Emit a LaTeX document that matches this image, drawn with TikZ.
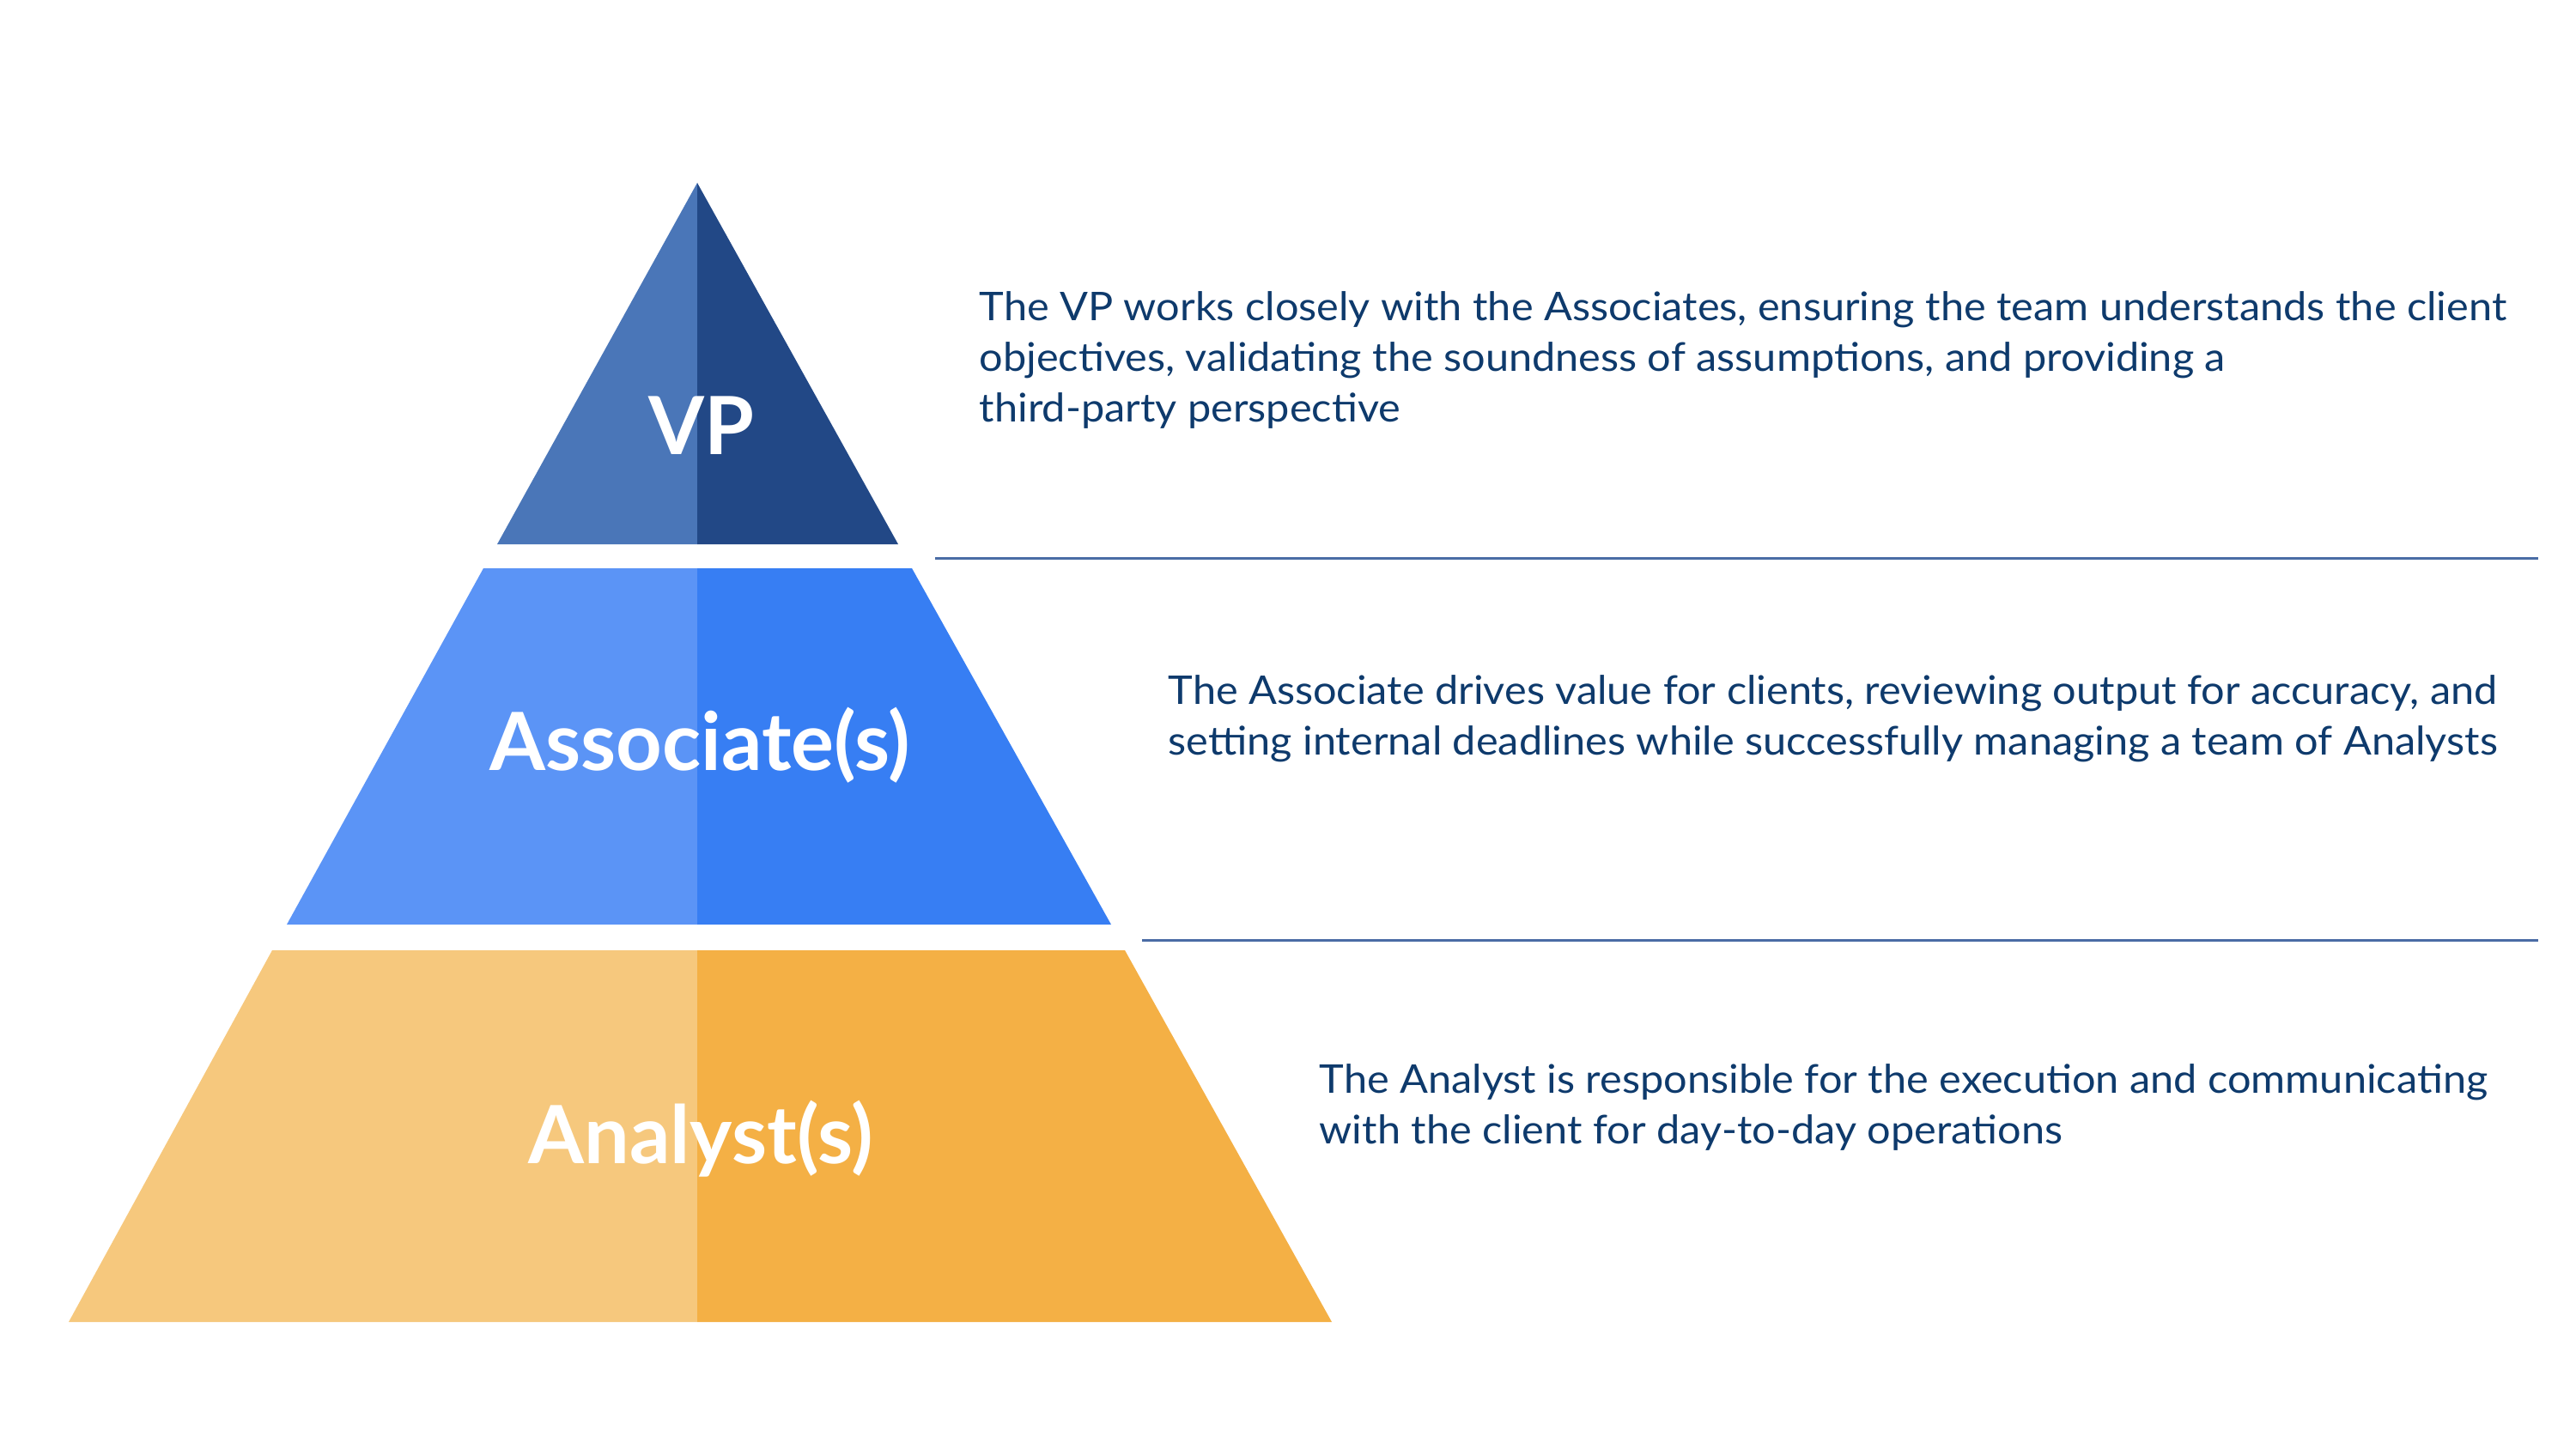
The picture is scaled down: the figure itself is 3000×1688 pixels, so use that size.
\documentclass[tikz,border=0pt]{standalone}
\usepackage{fontspec}
\setmainfont{Lato}
\newfontfamily\descfont{Lato}[FakeStretch=1.056]
\definecolor{vpL}{HTML}{4A76B8}
\definecolor{vpR}{HTML}{224886}
\definecolor{asL}{HTML}{5B94F6}
\definecolor{asR}{HTML}{377EF3}
\definecolor{anL}{HTML}{F6C87D}
\definecolor{anR}{HTML}{F4B045}
\definecolor{txt}{HTML}{0E3A6C}
\definecolor{sep}{HTML}{4A6CA5}
\tikzset{
  desc/.style={anchor=base west, inner sep=0pt, text=txt, font=\descfont\fontsize{13.1}{16}\selectfont},
  lvl/.style={anchor=base, inner sep=0pt, text=white, font=\fontsize{26.6}{30}\selectfont\bfseries},
  sepline/.style={draw=sep, line width=0.03cm}
}
\begin{document}
\begin{tikzpicture}[x=0.01cm,y=-0.01cm]
\useasboundingbox (0,0) rectangle (3000,1688);
% VP
\fill[vpL] (812,213) -- (812,634) -- (579,634) -- cycle;
\fill[vpR] (812,213) -- (812,634) -- (1046,634) -- cycle;
% Associates
\fill[asL] (563,662) -- (812,662) -- (812,1077) -- (334,1077) -- cycle;
\fill[asR] (812,662) -- (1062,662) -- (1294,1077) -- (812,1077) -- cycle;
% Analysts
\fill[anL] (317,1107) -- (812,1107) -- (812,1540) -- (80,1540) -- cycle;
\fill[anR] (812,1107) -- (1310,1107) -- (1551,1540) -- (812,1540) -- cycle;
% labels
\node[lvl] (vp) at (817,529) {VP};
\node[lvl] (as) at (815,897) {Associate(s)};
\node[lvl] (an) at (816,1355) {Analyst(s)};
% separators
\coordinate (s1a) at (1089,650);
\coordinate (s1b) at (2956,650);
\coordinate (s2a) at (1330,1095);
\coordinate (s2b) at (2956,1095);
\draw[sepline] (s1a) -- (s1b);
\draw[sepline] (s2a) -- (s2b);
% descriptions
\node[desc] (vp1) at (1140,373) {The VP works closely with the Associates, ensuring the team understands the client};
\node[desc] (vp2) at (1140,432) {objectives, validating the soundness of assumptions, and providing a};
\node[desc] (vp3) at (1140,491) {third-party perspective};
\node[desc] (as1) at (1360,820) {The Associate drives value for clients, reviewing output for accuracy, and};
\node[desc] (as2) at (1360,879) {setting internal deadlines while successfully managing a team of Analysts};
\node[desc] (an1) at (1536,1273) {The Analyst is responsible for the execution and communicating};
\node[desc] (an2) at (1536,1332) {with the client for day-to-day operations};
\end{tikzpicture}
\end{document}
